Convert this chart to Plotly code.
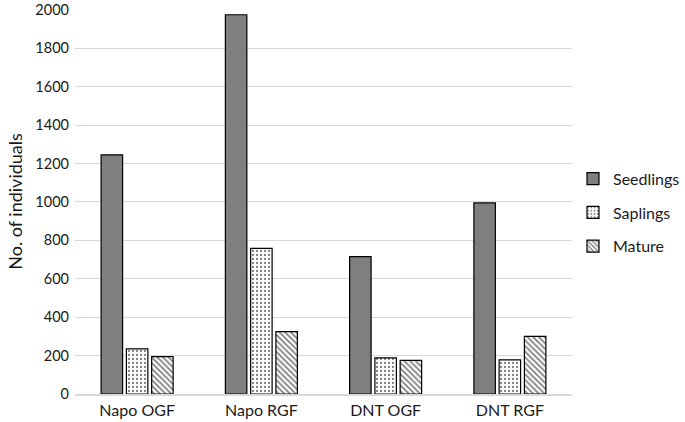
import plotly.graph_objects as go

categories = ["Napo OGF", "Napo RGF", "DNT OGF", "DNT RGF"]
seedlings = [1245, 1975, 715, 995]
saplings = [235, 758, 188, 178]
mature = [195, 325, 175, 300]
y_ticks = [0, 200, 400, 600, 800, 1000, 1200, 1400, 1600, 1800, 2000]

fig = go.Figure()
fig.add_trace(go.Bar(
    x=categories, y=seedlings, name="Seedlings", legendgroup="a",
    marker=dict(color="#7f7f7f", line=dict(color="#000000", width=1.2)),
))
fig.add_trace(go.Bar(
    x=categories, y=saplings, name="Saplings", legendgroup="b",
    marker=dict(color="#ffffff", line=dict(color="#000000", width=1.2),
                pattern=dict(shape=".", fgcolor="#000000", bgcolor="#ffffff",
                             size=4, solidity=0.25, fillmode="overlay")),
))
fig.add_trace(go.Bar(
    x=categories, y=mature, name="Mature", legendgroup="c",
    marker=dict(color="#ffffff", line=dict(color="#000000", width=1.2),
                pattern=dict(shape="\\", fgcolor="#000000", bgcolor="#ffffff",
                             size=4, solidity=0.45, fillmode="overlay")),
))

fig.update_layout(
    width=685, height=422,
    margin=dict(l=75, r=113, t=9, b=28, autoexpand=False),
    paper_bgcolor="white", plot_bgcolor="white",
    barmode="group", bargap=0.39, bargroupgap=0.15,
    font=dict(family="Lato, 'Open Sans', sans-serif", size=15, color="#1a1a1a"),
    xaxis=dict(showgrid=False, showline=True, linecolor="#d9d9d9", linewidth=1.5,
               ticks="", tickfont=dict(size=16), ticklabelstandoff=1, automargin=False),
    yaxis=dict(range=[0, 2005], tickvals=y_ticks, showgrid=True,
               gridcolor="#d9d9d9", gridwidth=1, zeroline=False, showline=False,
               ticks="", tickfont=dict(size=14.5), ticklabelstandoff=5, automargin=False,
               ticklabeloverflow="allow",
               title=dict(text="No. of individuals", font=dict(size=18), standoff=8)),
    legend=dict(x=1.002, xanchor="left", y=0.471, yanchor="middle",
                traceorder="grouped", tracegroupgap=10,
                font=dict(size=16), bgcolor="rgba(0,0,0,0)"),
    showlegend=True,
)

fig.write_html("out.html", config={"displayModeBar": False},
               post_script="document.body.style.margin='0px';")
